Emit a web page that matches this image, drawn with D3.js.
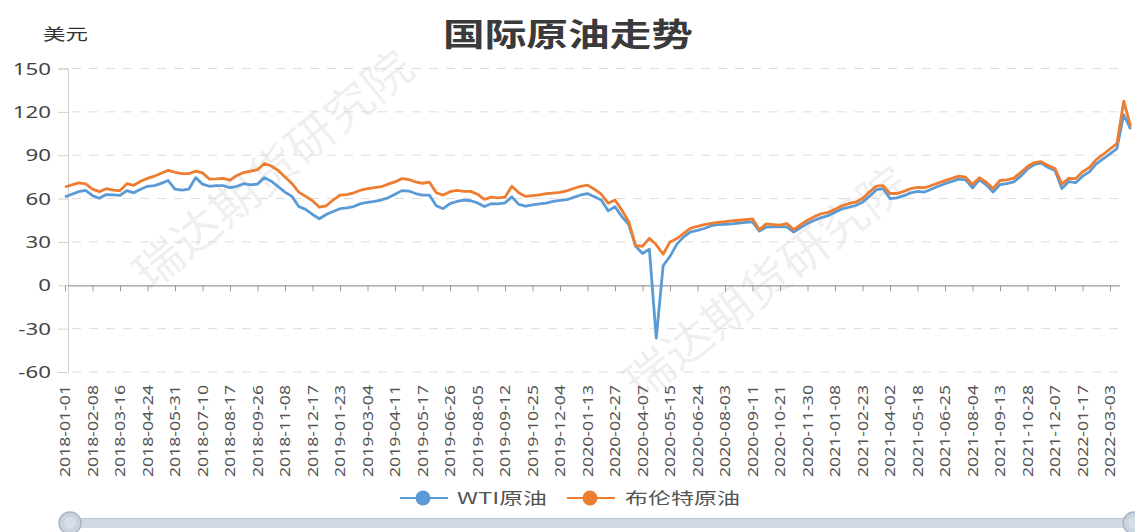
<!DOCTYPE html>
<html lang="zh">
<head>
<meta charset="utf-8">
<script src="https://d3js.org/d3.v7.min.js"></script>
<style>
  body { margin: 0; background: #fff; }
  svg text { font-family: "Noto Sans", "Noto Sans CJK SC", sans-serif; }
</style>
</head>
<body>
<div id="my_dataviz"></div>
<script>

// x axis labels (one every 4 samples)
var labels = ['2018-01-01','2018-02-08','2018-03-16','2018-04-24','2018-05-31','2018-07-10','2018-08-17','2018-09-26','2018-11-08','2018-12-17',
  '2019-01-23','2019-03-04','2019-04-11','2019-05-17','2019-06-26','2019-08-05','2019-09-12','2019-10-25','2019-12-04','2020-01-13',
  '2020-02-27','2020-04-07','2020-05-15','2020-06-24','2020-08-03','2020-09-11','2020-10-21','2020-11-30','2021-01-08','2021-02-23',
  '2021-04-02','2021-05-18','2021-06-25','2021-08-04','2021-09-13','2021-10-28','2021-12-07','2022-01-17','2022-03-03'];
var samplesPerLabel = 4;

var seriesNames = ['WTI原油', '布伦特原油'];

// WTI, sampled roughly weekly
var wti = [61.2,63,64.8,65.6,62,60.2,62.8,62.6,62.2,65.5,
  64,66.5,68.5,69,70.5,72.5,66.5,65.8,66.5,74.5,
  70,68.5,69,69,67.5,68.5,70.3,69.5,70,74.5,
  72,68.3,64.5,61.5,54.5,52.5,49,46,49,51,
  53,53.6,54.5,56.5,57.3,58,59,60.5,63,65.5,
  65.2,63.5,62.4,62.4,55,53,56.5,58,59,58.5,
  57,54.5,56.4,56.3,57,61.2,56,54.8,55.6,56.4,
  56.8,58,58.8,59.2,60.8,62.5,63.5,61.2,59,51.5,
  54.3,47.5,42,27,22,25,-36.5,13.5,20,28.5,
  33.5,37,38,39.3,41.2,42,42.2,42.5,43,43.5,
  43.9,37.5,40.3,40.4,40.4,40.4,36.8,40,42.7,45,
  46.8,48.2,50.5,52.8,54,55.2,57.5,61.5,66,66.8,
  60,60.5,62,64,65,64.5,66.5,68.5,70.3,71.8,
  73.5,73,67.4,73,69.5,64.5,69.7,70.3,71.5,75.5,
  80.5,83.6,84.5,81.5,79.5,67,71.8,71,75.5,78.5,
  84,87.5,91,94.5,118,108];

// Brent, same sampling
var brent = [68,69.5,70.8,70.2,66.5,64.8,66.8,65.8,65.5,70.3,
  69.2,72,74,75.5,77.5,79.5,78.2,77.3,77.2,79,
  77.8,73.5,73.6,74,72.8,76,78,79,80,84.3,
  82.5,79.5,75,70.5,64.5,61.5,58.5,54,55,59,
  62.4,62.8,64,65.8,66.8,67.5,68.2,70,71.5,73.8,
  73.2,71.5,70.6,71.4,64,62.4,64.8,65.6,65,65,
  63,59.5,61,60.5,61,68.6,64,61.5,62,62.6,
  63.4,63.8,64.3,65.4,67,68.5,69.3,66.5,63,56.8,
  59,52,44,27.5,27,32.5,28,21.5,30,32.3,
  36,39.5,40.8,42,42.8,43.6,44,44.6,45,45.5,
  46,38.5,42.5,42,41.6,42.7,38.5,42,45,47.5,
  49.5,50.5,52.5,55,56.5,57.5,60,64.5,68.6,69,
  63.5,63.5,65,66.8,67.8,67.5,69,70.8,72.4,74,
  75.5,74.8,69.7,74.5,71.3,67,72.5,73,74.2,78,
  82.2,84.9,85.5,82.8,80.8,70,74,73.8,78.5,81.5,
  87,90.5,94.3,98,127.4,110];

var yTicks = [150, 120, 90, 60, 30, 0, -30, -60];
var colors = ['#5b9bd5', '#ed7d31'];

var W = 1135, H = 532;
var svg = d3.select("#my_dataviz")
  .append("svg")
    .attr("width", W)
    .attr("height", H);

var gLeft = 68, gRight = 1120, gTop = 68.5, gBottom = 372;

var x = d3.scaleLinear()
  .domain([0, wti.length - 1])
  .range([65, 65 + (wti.length - 1) * 6.875]);

var y = d3.scaleLinear()
  .domain([-60, 150])
  .range([gBottom, gTop]);

// watermark
[[150, 292, -39.4], [640, 402, -38]].forEach(function(w) {
  svg.append("text")
    .attr("transform", "translate(" + w[0] + "," + w[1] + ") rotate(" + w[2] + ")")
    .attr("textLength", 345)
    .attr("lengthAdjust", "spacingAndGlyphs")
    .style("font-family", "'Noto Sans CJK SC', sans-serif")
    .style("font-size", "46px")
    .style("fill", "#000")
    .style("fill-opacity", 0.075)
    .text("瑞达期货研究院");
});

// grid
svg.append("g")
  .selectAll("line")
  .data(yTicks.filter(function(d) { return d !== 0; }))
  .enter()
  .append("line")
    .attr("x1", gLeft).attr("x2", gRight)
    .attr("y1", function(d) { return y(d); })
    .attr("y2", function(d) { return y(d); })
    .attr("stroke", "#dcdcdc")
    .attr("stroke-dasharray", "9,8")
    .attr("stroke-dashoffset", -4);

// y axis
var yAxis = svg.append("g")
  .attr("transform", "translate(" + gLeft + ",0)")
  .call(d3.axisLeft(y).tickValues(yTicks).tickSize(10).tickPadding(0).tickFormat(function() { return ""; }));
yAxis.select(".domain").attr("stroke", "#cfcfcf");
yAxis.selectAll(".tick line").attr("stroke", "#cfcfcf");

svg.append("g")
  .selectAll("text")
  .data(yTicks)
  .enter()
  .append("text")
    .attr("transform", function(d) { return "translate(51," + (y(d) + 6) + ") scale(1.35,1)"; })
    .attr("text-anchor", "end")
    .style("font-size", "16.5px")
    .style("fill", "#444")
    .text(function(d) { return d; });

// x axis
var tickIdx = labels.map(function(d, i) { return i * samplesPerLabel; });
var xAxis = svg.append("g")
  .attr("transform", "translate(0," + y(0) + ")")
  .call(d3.axisBottom(x).tickValues(tickIdx).tickSize(6).tickSizeOuter(0).tickFormat(function() { return ""; }));
xAxis.select(".domain").attr("d", "M" + gLeft + ",0.5H" + gRight).attr("stroke", "#9a9a9a").attr("stroke-width", 1.3);
xAxis.selectAll(".tick line").attr("stroke", "#9a9a9a");

svg.append("g")
  .selectAll("text")
  .data(labels)
  .enter()
  .append("text")
    .attr("transform", function(d, i) { return "translate(" + (x(i * samplesPerLabel) + 5) + ",385) rotate(-90)"; })
    .attr("text-anchor", "end")
    .attr("textLength", 92)
    .attr("lengthAdjust", "spacingAndGlyphs")
    .style("font-size", "15px")
    .style("fill", "#555")
    .text(function(d) { return d; });

// lines
var line = d3.line()
  .x(function(d, i) { return x(i); })
  .y(function(d) { return y(d); })
  .curve(d3.curveLinear);

[wti, brent].forEach(function(s, k) {
  svg.append("path")
    .datum(s)
    .attr("fill", "none")
    .attr("stroke", colors[k])
    .attr("stroke-width", 2.8)
    .attr("stroke-linejoin", "round")
    .attr("d", line);
});

// title + unit
svg.append("text")
  .attr("x", 443).attr("y", 46)
  .attr("textLength", 250)
  .attr("lengthAdjust", "spacingAndGlyphs")
  .style("font-family", "'Noto Sans CJK SC', sans-serif")
  .style("font-size", "32px")
  .style("font-weight", "bold")
  .style("fill", "#3a3a3a")
  .text("国际原油走势");

svg.append("text")
  .attr("x", 43).attr("y", 40)
  .attr("textLength", 45)
  .attr("lengthAdjust", "spacingAndGlyphs")
  .style("font-family", "'Noto Sans CJK SC', sans-serif")
  .style("font-size", "16px")
  .style("fill", "#333")
  .text("美元");

// legend
var legendPos = [{lx: 400, tx: 457, tw: 90}, {lx: 567, tx: 625, tw: 115}];
var legend = svg.append("g");
seriesNames.forEach(function(name, k) {
  var p = legendPos[k];
  legend.append("line")
    .attr("x1", p.lx).attr("x2", p.lx + 48)
    .attr("y1", 498).attr("y2", 498)
    .attr("stroke", colors[k]).attr("stroke-width", 2);
  legend.append("circle")
    .attr("cx", p.lx + 23).attr("cy", 498).attr("r", 7.5)
    .attr("fill", colors[k]);
  legend.append("text")
    .attr("x", p.tx).attr("y", 504)
    .attr("textLength", p.tw)
    .attr("lengthAdjust", "spacingAndGlyphs")
    .style("font-family", "'Noto Sans CJK SC', sans-serif")
    .style("font-size", "16px")
    .style("fill", "#555")
    .text(name);
});

// data zoom slider (bottom)
var slider = svg.append("g");
slider.append("rect")
  .attr("x", 70).attr("y", 518).attr("width", 1064).attr("height", 10)
  .attr("fill", "#d2d9e3");
slider.append("line")
  .attr("x1", 70).attr("x2", 1134).attr("y1", 518.5).attr("y2", 518.5)
  .attr("stroke", "#bcc6d3");
[70, 1134].forEach(function(cx) {
  slider.append("circle")
    .attr("cx", cx).attr("cy", 523).attr("r", 11)
    .attr("fill", "#cbd3de").attr("stroke", "#aab6c6").attr("stroke-width", 1.5);
  slider.append("circle")
    .attr("cx", cx).attr("cy", 523).attr("r", 6)
    .attr("fill", "#d9dfe8");
});

</script>
</body>
</html>
